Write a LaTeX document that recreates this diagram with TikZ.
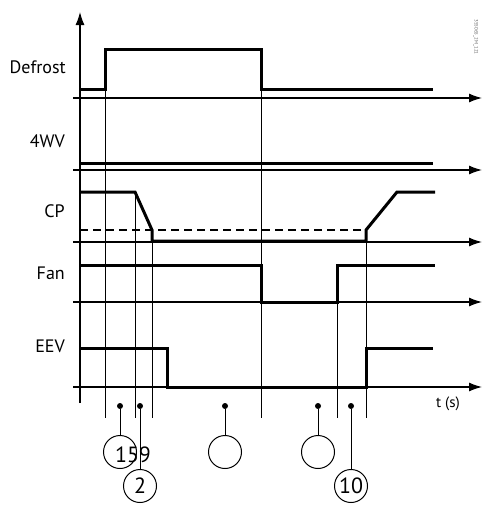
\documentclass[tikz,border=0pt]{standalone}
\usepackage{fontspec}
\setmainfont{PT Sans}
\usetikzlibrary{positioning,arrows.meta}
\tikzset{
	td_base/.style={font=\fontsize{18}{20}\selectfont},
	td_axis/.style={draw=black, line width=1.2pt, -{Latex[length=13pt,width=9pt]}},
	td_signal/.style={draw=black, line width=3pt, line join=miter},
	td_guide/.style={draw=black, line width=1pt},
	td_level/.style={draw=black, line width=1.2pt, dash pattern=on 8pt off 5pt},
	td_label/.style={td_base, anchor=base east, inner sep=0pt},
	td_dot/.style={circle, fill=black, inner sep=0pt, minimum size=6pt},
	td_callout/.style={draw, circle, line width=1pt, minimum size=33pt, inner sep=0pt, on grid, font=\fontsize{22}{24}\selectfont},
	td_lead/.style={draw=black, line width=1pt}
}
\begin{document}
\begin{tikzpicture}[x=1pt, y=-1pt]
	\useasboundingbox (0,0) rectangle (484,506);

	% axes
	\draw[td_axis] (80,403) -- (80,12);
	\foreach \y in {98,170,242,302,387}
		\draw[td_axis] (73,\y) -- (482,\y);

	% guides
	\foreach \x/\top in {105/49,135/192,152/230,261/49,337/265,366/230}
		\draw[td_guide] (\x,\top) -- (\x,418);

	% signals
	\draw[td_level] (80,230) -- (366,230);
	\draw[td_signal] (80,89) -- (105,89) -- (105,49) -- (261,49) -- (261,89) -- (433,89);
	\draw[td_signal] (80,163) -- (433,163);
	\draw[td_signal] (80,192) -- (135,192) -- (152,230) -- (152,241) -- (366,241) -- (366,230) -- (397,192) -- (435,192);
	\draw[td_signal] (80,265) -- (261,265) -- (261,302) -- (337,302) -- (337,265) -- (435,265);
	\draw[td_signal] (80,348) -- (167,348) -- (167,387) -- (366,387) -- (366,348) -- (433,348);

	\node[td_label] (defrost) at (66,73) {Defrost};
	\node[td_label] (wv) at (65,147) {4WV};
	\node[td_label] (cp) at (65,217) {CP};
	\node[td_label] (fan) at (65,279) {Fan};
	\node[td_label] (eev) at (65,352) {EEV};
	\node[anchor=base, inner sep=0pt, font=\fontsize{15}{17}\selectfont] (time) at (448,407) {t (s)};
	\node[rotate=-90, inner sep=0pt, text=black!60, font=\fontsize{5}{6}\selectfont] (mark) at (476,37) {355065\_2M\_121};

	% callouts
	\node[td_dot] (p1) at (120,406) {};
	\node[td_dot] (p2) at (140,406) {};
	\node[td_dot] (p3) at (225,406) {};
	\node[td_dot] (p4) at (318,406) {};
	\node[td_dot] (p5) at (351,406) {};
	\node[td_callout, below = 46pt of p1] (c1) {};
	\node[td_callout, below = 80pt of p2] (c2) {2};
	\node[td_callout, below = 46pt of p3] (c3) {};
	\node[td_callout, below = 46pt of p4] (c4) {};
	\node[td_callout, below = 80pt of p5] (c5) {10};
	\foreach \i in {1,...,5}
		\path[td_lead] (p\i) -- (c\i);
	\node[anchor=base, inner sep=0pt, font=\fontsize{22}{24}\selectfont] (n159) at (133,462) {159};
\end{tikzpicture}
\end{document}
